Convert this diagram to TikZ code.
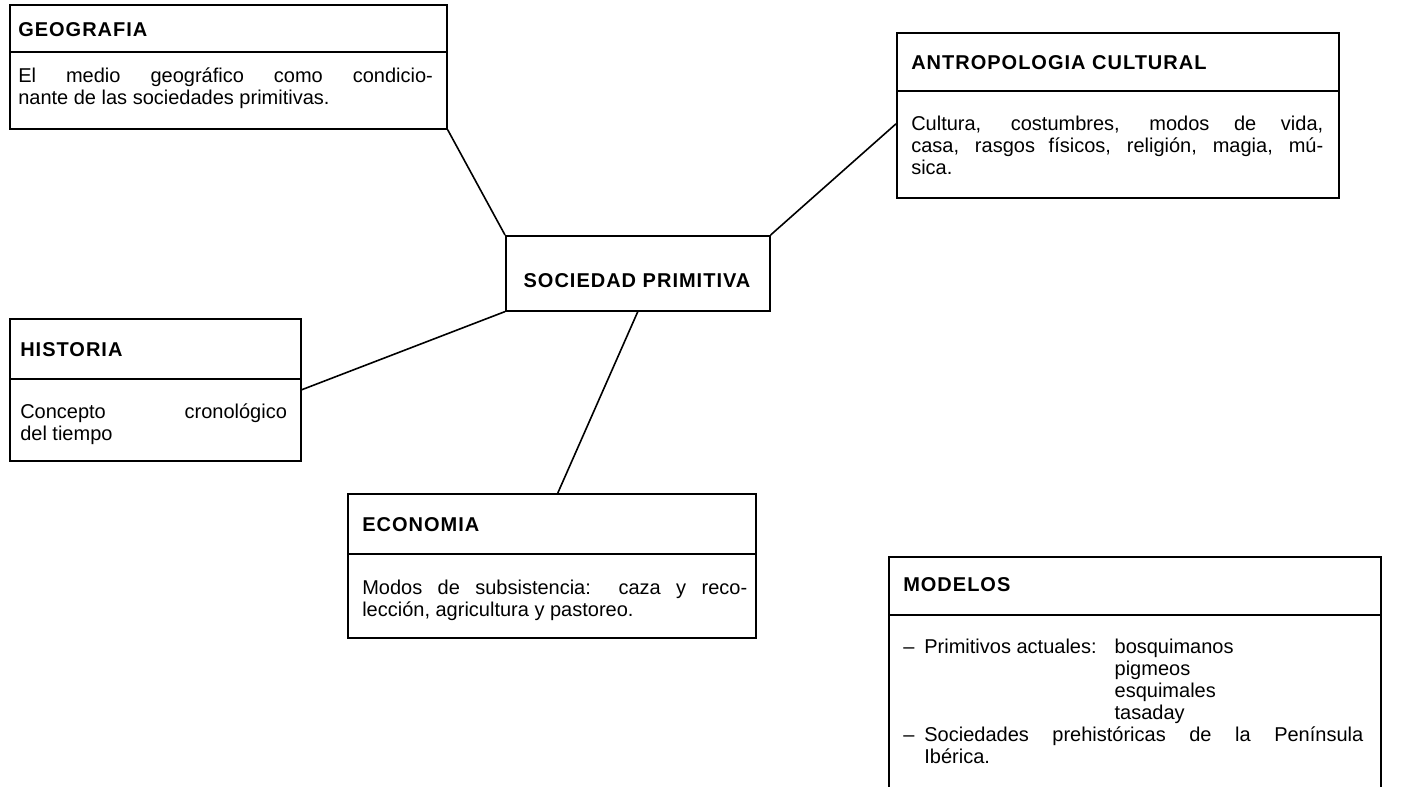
\documentclass[tikz,border=0pt]{standalone}
\usepackage{fontspec}
\setmainfont{Liberation Sans}
\newfontfamily\bodyf{Liberation Sans}
\newfontfamily\titlef[LetterSpace=5]{Liberation Sans}
\newcommand\jl[1]{\hbox to \hsize{\spaceskip=0.25em plus 1fil\relax #1}}
\newcommand\nl[1]{\hbox{#1}}
\newcommand\bodytext[2]{\vtop{\hsize=#1\baselineskip=16.5pt\lineskiplimit=-20pt\relax #2}}
\newcommand\dashsp{–\hspace{0.5em}}
\tikzset{
  boxst/.style={draw, line width=1.2pt, anchor=north west, inner sep=0pt},
  divline/.style={line width=1.2pt},
  conn/.style={line width=1.2pt},
  ttl/.style={anchor=base west, inner sep=0pt, font=\titlef\bfseries\fontsize{15pt}{17pt}\selectfont},
  bdy/.style={anchor=base west, inner sep=0pt, font=\bodyf\fontsize{15pt}{16.5pt}\selectfont},
}
\begin{document}
\begin{tikzpicture}[x=0.75pt,y=-0.75pt]
\useasboundingbox (0,0) rectangle (1404,786);
% boxes
\node[boxst, minimum width=437*0.75pt, minimum height=124*0.75pt] (geo) at (9,4) {};
\node[boxst, minimum width=442*0.75pt, minimum height=165*0.75pt] (ant) at (896,32) {};
\node[boxst, minimum width=264*0.75pt, minimum height=75*0.75pt] (soc) at (505,235) {};
\node[boxst, minimum width=291*0.75pt, minimum height=142*0.75pt] (hist) at (9,318) {};
\node[boxst, minimum width=408*0.75pt, minimum height=144*0.75pt] (econ) at (347,493) {};
\node[boxst, minimum width=492*0.75pt, minimum height=260*0.75pt] (mod) at (888,556) {};
% dividers
\draw[divline] (geo.west |- 0,52) -- (geo.east |- 0,52);
\draw[divline] (ant.west |- 0,91) -- (ant.east |- 0,91);
\draw[divline] (hist.west |- 0,379) -- (hist.east |- 0,379);
\draw[divline] (econ.west |- 0,554) -- (econ.east |- 0,554);
\draw[divline] (mod.west |- 0,615) -- (mod.east |- 0,615);
% connectors
\draw[conn] (geo.south east) -- (soc.north west);
\draw[conn] (soc.north east) -- ([yshift=-6.4pt]ant.west);
\draw[conn] (soc.south west) -- (hist.east);
\draw[conn] (soc.south) -- ([xshift=4.5pt]econ.north);
% titles
\node[ttl] (geot) at (18,36) {GEOGRAFIA};
\node[ttl] (antt) at (911,69) {ANTROPOLOGIA CULTURAL};
\node[ttl, anchor=base] (soct) at (637,287) {SOCIEDAD PRIMITIVA};
\node[ttl] (histt) at (20,356) {HISTORIA};
\node[ttl] (econt) at (362,531) {ECONOMIA};
\node[ttl] (modt) at (903,591) {MODELOS};
% bodies
\node[bdy] (geob) at (18,82) {\bodytext{311pt}{%
  \jl{El medio geográfico como condicio-}%
  \nl{nante de las sociedades primitivas.}}};
\node[bdy] (antb) at (911,130) {\bodytext{309pt}{%
  \jl{Cultura, costumbres, modos de vida,}%
  \jl{casa, rasgos físicos, religión, magia, mú-}%
  \nl{sica.}}};
\node[bdy] (histb) at (20,418) {\bodytext{200pt}{%
  \jl{Concepto cronológico}%
  \nl{del tiempo}}};
\node[bdy] (econb) at (362,594) {\bodytext{288.75pt}{%
  \jl{Modos de subsistencia: caza y reco-}%
  \nl{lección, agricultura y pastoreo.}}};
\node[bdy] (modb) at (903,653) {\bodytext{345pt}{%
  \nl{\dashsp Primitivos actuales:\hspace{0.9em}bosquimanos}%
  \nl{\phantom{\dashsp Primitivos actuales:\hspace{0.9em}}pigmeos}%
  \nl{\phantom{\dashsp Primitivos actuales:\hspace{0.9em}}esquimales}%
  \nl{\phantom{\dashsp Primitivos actuales:\hspace{0.9em}}tasaday}%
  \jl{\dashsp Sociedades prehistóricas de la Península}%
  \nl{\phantom{\dashsp}Ibérica.}}};
\end{tikzpicture}
\end{document}
